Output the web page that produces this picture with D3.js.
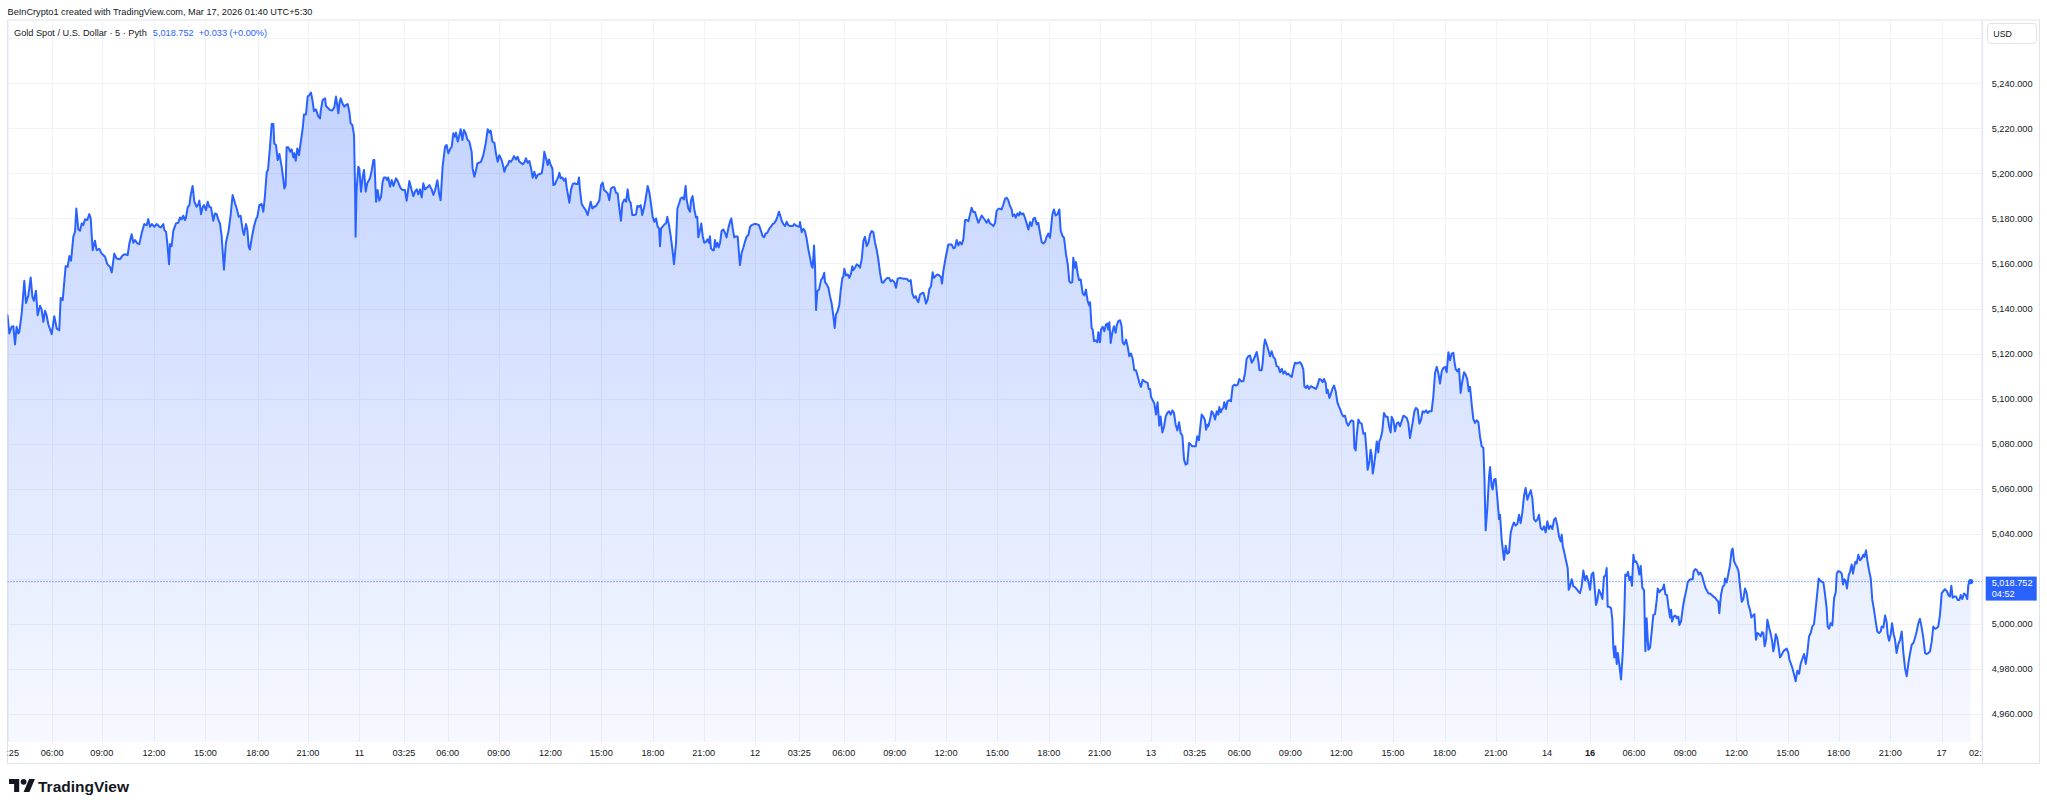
<!DOCTYPE html>
<html><head><meta charset="utf-8">
<script src="https://cdn.jsdelivr.net/npm/d3@7"></script>
<style>
html,body{margin:0;padding:0;background:#fff;}
svg{display:block;font-family:"Liberation Sans",Arial,sans-serif;}
</style></head><body>
<svg id="chart" width="2047" height="809"></svg>
<script>
// ---------- data (x = 5-minute bar index from 10 Mar 03:25, y = price in USD) ----------
const priceTicks = [4960,4980,5000,5020,5040,5060,5080,5100,5120,5140,5160,5180,5200,5220,5240,5260];
const hiddenPriceLabels = [5020,5260];
const timeTickBars = [0,31.4,66.3,103.0,139.2,175.9,211.3,247.5,278.8,309.6,345.4,381.8,417.6,453.9,489.6,525.7,556.8,588.1,623.9,660.0,696.1,732.3,768.0,804.1,834.9,866.3,902.1,937.9,974.3,1010.6,1046.6,1082.7,1112.9,1143.8,1179.8,1215.9,1252.0,1287.7,1324.1,1360.1,1387.5];
const timeTickLabels = ["03:25","06:00","09:00","12:00","15:00","18:00","21:00","11","03:25","06:00","09:00","12:00","15:00","18:00","21:00","12","03:25","06:00","09:00","12:00","15:00","18:00","21:00","13","03:25","06:00","09:00","12:00","15:00","18:00","21:00","14","16","06:00","09:00","12:00","15:00","18:00","21:00","17","02:25"];
const boldTimeLabels = ["16"];
const lastPrice = 5018.752;
const lastChange = "+0.033 (+0.00%)";
const countdown = "04:52";

const mar10 = [[0,5137.0],[1.3,5128.9],[2.9,5131.9],[4.1,5132.1],[5.3,5124.1],[6.4,5131.9],[7.6,5128.9],[8.3,5129.6],[10.0,5137.8],[11.8,5152.3],[13.0,5142.5],[14.7,5145.9],[16.3,5153.8],[17.5,5145.2],[18.6,5143.4],[20.0,5147.9],[21.2,5137.0],[22.9,5141.2],[24.0,5139.6],[25.2,5134.1],[26.4,5139.0],[27.5,5137.0],[28.7,5133.0],[31.1,5128.6],[32.9,5136.6],[34.6,5131.1],[36.4,5130.4],[37.4,5144.7],[38.8,5143.7],[40.9,5158.8],[42.3,5158.5],[43.5,5163.3],[44.7,5161.2],[46.3,5171.9],[47.5,5174.1],[48.4,5184.4],[49.8,5175.1],[51.0,5174.5],[52.2,5177.8],[53.3,5177.0],[54.5,5179.6],[56.1,5179.3],[57.5,5181.9],[58.5,5180.0],[59.9,5165.9],[61.5,5170.1],[62.7,5165.9],[64.6,5166.5],[66.2,5164.4],[68.6,5163.0],[70.2,5159.7],[72.1,5158.5],[73.3,5156.0],[75.1,5164.4],[76.7,5162.2],[79.1,5161.9],[81.0,5163.6],[82.6,5164.1],[84.5,5163.7],[85.7,5168.9],[87.3,5173.0],[88.5,5169.2],[89.7,5170.4],[91.3,5168.9],[92.7,5168.6],[94.4,5173.6],[96.2,5177.5],[97.9,5177.0],[99.0,5179.7],[100.2,5176.3],[101.6,5177.5],[103.3,5176.3],[104.9,5177.5],[106.8,5176.3],[107.9,5176.0],[109.6,5177.5],[110.3,5174.8],[111.5,5174.1],[112.4,5168.9],[113.6,5159.7],[114.3,5168.6],[115.4,5167.7],[116.6,5174.5],[118.5,5177.8],[120.1,5178.1],[121.3,5180.4],[122.5,5179.6],[123.6,5181.2],[124.8,5179.3],[125.5,5180.3],[126.7,5184.9],[127.9,5185.9],[128.8,5190.2],[130.2,5194.4],[131.4,5187.4],[133.0,5185.2],[134.2,5186.2],[134.9,5187.9],[136.1,5181.9],[137.2,5184.9],[138.2,5185.9],[139.6,5183.7],[140.8,5187.4],[141.9,5185.2],[143.1,5184.9],[144.7,5179.0],[145.9,5182.2],[147.1,5181.9],[148.3,5179.3],[149.4,5177.8],[150.6,5172.1],[152.2,5157.3],[153.6,5169.2],[155.5,5174.5],[156.9,5181.5],[158.3,5190.4],[160.0,5186.7],[161.2,5184.4],[162.6,5180.7],[163.9,5181.2],[165.4,5174.8],[166.3,5172.6],[167.7,5177.5],[168.7,5174.8],[169.6,5167.4],[170.5,5166.2],[171.7,5171.1],[173.3,5176.3],[174.8,5179.7],[175.7,5180.7],[177.1,5185.9],[178.7,5186.4],[179.9,5183.0],[181.1,5190.4],[182.3,5200.7],[183.2,5201.5],[184.6,5211.9],[185.8,5221.9],[187.0,5221.9],[187.6,5213.3],[188.8,5212.6],[190.0,5205.9],[191.2,5208.6],[192.8,5203.0],[194.0,5197.0],[194.7,5193.3],[195.6,5194.8],[196.3,5211.6],[197.5,5211.6],[198.7,5209.6],[199.8,5210.7],[201.0,5207.1],[201.7,5208.9],[202.7,5205.6],[203.8,5211.1],[205.0,5208.1],[206.4,5214.8],[207.6,5220.0],[208.5,5226.2],[209.9,5226.2],[211.1,5234.1],[212.3,5234.8],[213.4,5235.9],[214.6,5231.9],[215.5,5227.7],[216.9,5228.4],[218.6,5225.2],[219.8,5224.4],[220.2,5227.4],[221.6,5232.6],[223.3,5233.3],[224.0,5229.9],[225.6,5228.9],[226.8,5228.1],[228.4,5227.9],[229.8,5229.3],[231.0,5234.1],[232.7,5226.7],[233.4,5231.1],[234.3,5233.3],[235.5,5231.1],[236.9,5229.6],[238.0,5230.4],[239.2,5230.8],[240.4,5227.4],[241.3,5222.2],[242.5,5221.5],[243.7,5217.0],[244.4,5194.1],[244.8,5171.9],[245.5,5192.6],[246.7,5203.0]];

const mar11 = [[247.4,5202.2],[248.6,5191.9],[249.8,5198.5],[250.7,5201.5],[251.9,5191.9],[253.0,5195.6],[254.9,5197.8],[256.1,5201.2],[257.3,5205.9],[258.0,5205.9],[259.2,5187.4],[260.3,5192.6],[261.5,5187.9],[262.7,5189.6],[263.8,5196.3],[264.8,5198.2],[266.0,5198.2],[267.1,5197.0],[267.8,5198.2],[269.0,5194.1],[270.2,5197.0],[271.4,5194.4],[273.2,5197.8],[274.4,5196.6],[276.0,5194.1],[276.7,5193.3],[277.9,5192.6],[279.5,5192.6],[280.7,5187.9],[282.6,5196.6],[284.2,5192.6],[285.4,5189.9],[286.6,5191.9],[287.8,5192.9],[288.9,5190.7],[290.1,5192.9],[291.3,5189.3],[292.4,5195.6],[293.6,5192.9],[295.3,5193.8],[296.7,5194.8],[298.3,5192.9],[299.5,5190.4],[300.6,5192.3],[302.3,5197.0],[303.5,5191.1],[304.6,5188.1],[306.0,5203.0],[307.7,5211.9],[308.8,5212.6],[310.0,5208.9],[311.2,5210.7],[312.4,5211.9],[313.5,5217.8],[314.7,5216.3],[315.4,5218.1],[316.6,5214.1],[317.5,5216.3],[318.7,5219.6],[319.9,5214.8],[321.0,5219.3],[322.2,5217.8],[323.4,5215.1],[324.8,5214.1],[326.4,5209.6],[327.1,5202.2],[328.3,5198.5],[329.5,5201.5],[330.4,5204.4],[331.6,5204.7],[333.0,5205.2],[334.6,5208.1],[336.3,5213.3],[337.7,5219.6],[338.9,5218.1],[339.8,5219.0],[341.0,5214.1],[342.4,5213.6],[343.5,5208.9],[344.7,5205.2],[345.9,5208.1],[347.5,5205.9],[348.7,5203.0],[349.4,5200.7],[350.6,5203.0],[351.7,5203.7],[352.9,5205.6],[354.1,5205.2],[355.3,5206.4],[356.2,5207.7],[357.6,5206.2],[358.8,5207.4],[359.9,5205.2],[361.1,5204.7],[362.3,5204.0],[363.5,5204.9],[364.6,5206.7],[365.8,5204.7],[367.0,5205.5],[368.2,5202.2],[369.3,5198.1],[370.5,5200.7],[371.7,5197.8],[372.8,5199.3],[374.0,5199.7],[375.7,5200.0],[376.8,5204.4],[377.5,5209.6],[378.7,5206.7],[379.9,5203.7],[380.8,5206.2],[382.0,5203.7],[383.2,5202.2],[383.9,5194.8],[385.0,5195.1],[386.2,5197.0],[387.4,5198.5],[388.1,5200.3],[389.0,5197.8],[390.2,5198.2],[391.4,5196.7],[392.5,5197.8],[393.2,5193.8],[394.4,5189.6],[395.1,5187.0],[396.3,5192.9],[397.5,5195.3],[398.6,5195.6],[399.8,5195.3],[401.0,5195.3],[401.9,5198.2],[402.6,5192.6],[403.8,5186.4],[405.0,5185.2],[406.6,5183.7],[408.0,5181.5],[408.9,5184.0],[410.1,5187.4],[411.3,5184.4],[412.5,5185.2],[413.9,5185.5],[415.0,5186.7],[416.2,5187.9],[417.4,5194.8],[418.6,5195.9],[419.5,5192.6],[420.9,5191.9],[422.1,5191.1],[423.2,5188.1],[424.4,5193.3],[425.6,5193.8],[426.8,5193.8],[427.9,5191.4],[429.1,5191.1],[430.3,5184.4],[431.4,5179.0],[432.4,5186.7],[433.8,5188.4],[435.0,5187.4],[436.1,5192.9],[437.1,5188.1],[438.2,5187.0],[439.4,5181.5],[440.8,5181.5],[442.0,5181.8],[442.9,5185.5],[444.3,5185.2],[445.3,5185.9],[446.4,5181.5],[447.9,5185.5],[449.0,5189.6],[450.2,5194.4],[451.4,5191.4],[452.5,5186.7],[453.7,5180.7],[454.9,5178.5],[456.1,5180.0],[457.2,5176.3],[458.2,5175.6],[458.9,5167.7],[459.6,5175.6],[460.7,5176.3],[461.9,5177.3],[463.1,5177.8],[464.0,5180.7],[465.2,5177.0],[466.4,5172.1],[467.5,5166.7],[468.7,5159.7],[470.1,5168.9],[471.1,5184.4],[472.2,5186.4],[473.4,5188.9],[474.6,5189.3],[475.7,5188.4],[476.9,5194.4],[477.6,5188.4],[478.8,5184.4],[480.0,5183.0],[480.7,5188.1],[481.8,5189.9],[483.0,5184.0],[484.2,5180.4],[485.1,5180.7],[485.8,5171.6],[487.0,5174.8],[487.9,5177.8],[488.9,5172.1],[490.0,5169.2],[491.2,5169.6],[492.2,5170.7],[493.3,5169.2],[494.0,5172.1],[494.7,5166.7],[495.9,5165.9],[496.8,5165.9],[497.5,5170.4],[498.2,5167.4],[499.2,5169.2],[500.1,5167.1],[501.1,5169.2],[502.2,5174.5],[503.4,5175.1],[504.6,5173.6],[505.7,5171.6],[506.9,5175.6],[508.1,5178.5],[509.0,5180.0],[510.0,5175.6],[511.1,5171.6],[512.3,5172.1],[513.5,5171.9],[514.6,5163.0],[515.1,5159.3],[516.3,5164.7],[517.5,5167.1],[518.6,5169.6],[519.8,5171.9],[521.0,5172.6],[522.2,5176.3],[523.3,5177.0],[525.0,5177.5]];

const mar12 = [[526.8,5177.5],[528.5,5177.0],[529.7,5174.8],[531.1,5172.1],[532.0,5171.6],[533.2,5173.3],[534.3,5173.6],[535.8,5175.6],[536.9,5176.3],[538.1,5177.5],[539.0,5177.8],[540.4,5179.0],[541.4,5180.7],[542.5,5183.0],[543.7,5180.7],[544.4,5179.0],[545.6,5177.5],[546.8,5176.6],[547.9,5178.5],[549.1,5177.0],[550.3,5176.6],[552.2,5176.6],[553.3,5177.5],[555.0,5176.6],[556.9,5176.3],[557.3,5178.4],[558.5,5173.9],[559.7,5175.4],[560.8,5174.4],[562.0,5171.0],[563.2,5166.2],[564.4,5162.5],[565.5,5158.8],[566.2,5158.1],[567.2,5168.0],[567.9,5158.8],[568.6,5139.3],[569.5,5147.7],[570.7,5148.4],[572.1,5152.6],[573.3,5153.6],[574.4,5155.9],[574.9,5151.7],[576.1,5150.7],[577.3,5149.2],[578.4,5145.5],[579.6,5142.2],[580.8,5136.6],[581.7,5131.4],[582.6,5137.3],[583.8,5138.8],[585.0,5141.8],[585.9,5147.7],[587.1,5153.6],[587.8,5154.1],[588.5,5157.6],[589.7,5154.7],[590.9,5155.1],[592.0,5153.6],[593.2,5155.6],[594.1,5158.8],[594.8,5157.0],[596.0,5158.1],[597.2,5159.6],[598.4,5159.1],[599.5,5158.1],[600.7,5161.8],[601.9,5169.9],[603.0,5171.9],[604.2,5167.7],[605.4,5169.2],[606.6,5172.9],[607.7,5174.4],[608.9,5173.9],[610.1,5169.2],[611.2,5166.2],[612.4,5161.8],[613.6,5155.9],[614.8,5151.7],[615.9,5151.4],[617.1,5152.6],[618.7,5153.6],[619.9,5153.6],[621.1,5152.1],[622.3,5152.6],[623.7,5151.7],[624.8,5149.2],[626.0,5153.2],[627.7,5153.6],[630.0,5153.2],[632.3,5153.2],[634.0,5152.1],[635.2,5152.6],[636.3,5146.7],[637.5,5144.7],[638.7,5145.5],[639.4,5144.0],[640.5,5142.8],[641.7,5146.2],[642.9,5146.7],[644.1,5147.0],[644.8,5145.5],[645.9,5142.2],[647.1,5144.0],[648.3,5148.7],[649.5,5149.9],[650.6,5156.1],[651.6,5153.6],[652.7,5154.4],[653.9,5155.1],[655.3,5154.7],[656.5,5153.9],[657.2,5151.1],[658.1,5156.6],[659.3,5161.0],[660.5,5165.0],[661.6,5168.4],[662.8,5168.4],[664.0,5168.4],[665.2,5166.7],[666.3,5167.0],[667.5,5170.4],[668.7,5168.0],[669.8,5169.5],[671.0,5168.4],[672.2,5170.7],[673.4,5179.3],[674.5,5179.3],[675.7,5178.8],[676.9,5181.8],[678.0,5184.7],[679.2,5182.8],[680.4,5182.8],[681.6,5180.3],[682.7,5178.1],[683.9,5179.6],[685.1,5181.3],[686.2,5180.3],[687.4,5179.3],[688.6,5178.1],[689.8,5179.6],[690.9,5177.8],[692.1,5177.3],[693.3,5176.6],[694.5,5178.1],[695.6,5183.3],[696.8,5184.3],[698.0,5184.3],[699.1,5184.0],[700.3,5186.2],[701.5,5188.7],[702.7,5189.2],[703.8,5188.1],[705.0,5185.5],[706.2,5184.0],[706.9,5181.0],[708.1,5181.8],[709.0,5180.3],[710.2,5182.2],[711.3,5181.3],[712.0,5182.8],[713.2,5181.8],[714.4,5182.2],[715.5,5180.3],[716.7,5177.8],[717.9,5175.1],[719.1,5178.4],[720.2,5176.6],[721.4,5179.9],[722.6,5180.3],[723.8,5177.3],[724.9,5178.1],[726.1,5173.6],[727.3,5169.5],[728.4,5168.9],[729.6,5169.5],[730.8,5171.9],[732.0,5173.3],[733.1,5171.4],[733.8,5175.4],[734.8,5181.8],[735.9,5184.0],[737.1,5181.3],[738.3,5181.8],[739.7,5184.0],[740.6,5174.8],[741.8,5172.4],[743.0,5171.4],[744.4,5164.0],[745.6,5159.6],[746.7,5152.1],[747.7,5151.4],[748.8,5151.7],[749.5,5162.5],[750.7,5158.1],[751.4,5160.6],[752.4,5156.1],[753.5,5152.6],[754.7,5152.9],[756.1,5146.7],[757.3,5145.8],[758.4,5148.4],[759.6,5143.3],[760.8,5141.3],[761.3,5142.8],[762.4,5131.4],[763.1,5130.7],[764.1,5125.5],[765.2,5125.9],[766.4,5125.0],[767.1,5129.5],[768.3,5125.0],[769.0,5130.7],[770.2,5131.9],[771.3,5129.9],[772.5,5132.9],[773.4,5133.3],[774.1,5130.7],[774.9,5133.9],[775.8,5124.7],[777.0,5129.5],[778.1,5132.1],[779.3,5129.2],[780.0,5132.4],[781.2,5134.4],[782.4,5134.8],[783.5,5132.1],[784.2,5125.0],[785.4,5124.0],[786.6,5126.2],[787.7,5123.3],[788.9,5118.8],[790.1,5120.0],[791.3,5117.6],[792.4,5112.6],[793.6,5112.6],[794.8,5109.9],[796.0,5107.0],[797.1,5105.2],[798.3,5108.4],[799.5,5107.7],[800.6,5107.3],[801.8,5107.0],[802.5,5104.3],[803.5,5104.3]];

const mar13 = [[804.2,5100.7],[805.3,5099.3],[806.5,5097.8],[807.7,5092.9],[808.8,5098.4],[810.0,5088.0],[810.9,5092.1],[812.1,5085.0],[813.3,5087.4],[814.5,5092.1],[815.6,5093.6],[816.8,5094.4],[818.0,5092.9],[819.2,5094.8],[820.3,5093.6],[821.5,5088.4],[822.7,5085.9],[823.9,5089.5],[825.0,5084.7],[826.2,5083.6],[827.4,5072.9],[828.5,5070.7],[829.7,5071.1],[830.9,5080.3],[832.1,5079.6],[833.2,5078.8],[834.4,5078.8],[835.6,5078.8],[836.7,5083.3],[837.9,5081.5],[838.6,5086.2],[839.8,5092.9],[841.0,5091.9],[842.1,5090.4],[842.9,5086.2],[843.8,5088.4],[844.5,5087.7],[845.7,5090.7],[846.8,5094.4],[848.0,5093.3],[849.2,5090.7],[850.4,5094.4],[851.5,5092.9],[852.2,5096.3],[853.2,5093.9],[853.9,5095.1],[855.0,5095.9],[855.7,5098.4],[856.9,5095.4],[857.9,5098.8],[859.3,5099.3],[860.4,5098.8],[861.6,5105.5],[862.8,5106.2],[863.9,5105.8],[865.1,5106.2],[866.3,5108.7],[867.5,5107.7],[869.1,5107.7],[870.3,5111.4],[871.4,5117.6],[872.6,5118.8],[873.8,5119.1],[875.0,5115.9],[876.1,5117.0],[877.3,5118.8],[878.5,5120.7],[879.7,5116.6],[880.4,5112.6],[882.0,5112.6],[882.7,5115.9],[883.6,5123.3],[884.3,5126.2],[885.5,5124.0],[886.7,5121.5],[887.9,5118.8],[889.0,5121.0],[890.2,5118.5],[891.4,5117.6],[892.5,5114.4],[893.7,5114.1],[894.9,5111.7],[896.1,5113.2],[897.2,5111.1],[898.4,5112.1],[899.6,5110.7],[900.7,5111.1],[901.9,5110.2],[903.1,5109.6],[904.3,5113.2],[905.4,5115.9],[906.6,5115.6],[907.8,5115.9],[909.0,5116.1],[910.1,5115.1],[911.3,5112.9],[912.0,5105.5],[913.2,5104.7],[914.1,5105.8],[915.3,5104.3],[916.5,5105.5],[917.6,5105.2],[918.8,5104.7],[920.2,5104.3],[921.4,5106.2],[922.5,5108.7],[923.7,5108.4],[924.9,5107.3],[925.8,5108.7],[927.0,5107.0],[927.7,5102.5],[928.4,5104.0],[929.6,5100.3],[930.5,5101.8],[931.7,5104.3],[932.9,5105.8],[934.0,5103.3],[935.2,5098.4],[936.4,5096.3],[937.1,5095.4],[938.3,5093.3],[939.4,5092.1],[940.6,5092.4],[941.8,5089.2],[942.9,5088.0],[944.1,5089.5],[945.3,5090.4],[946.5,5089.9],[947.2,5078.1],[948.1,5077.0],[948.8,5083.3],[950.0,5090.7],[951.1,5089.2],[952.3,5088.9],[953.5,5084.4],[954.7,5084.7],[955.8,5076.1],[956.5,5068.4],[957.7,5071.7],[958.6,5077.3],[959.3,5075.1],[960.1,5066.7],[961.0,5070.2],[962.2,5076.6],[962.9,5081.0],[964.0,5076.1],[964.7,5081.0],[965.7,5082.5],[966.8,5085.5],[968.0,5093.6],[969.4,5091.9],[970.6,5091.9],[971.5,5088.0],[972.7,5085.0],[973.4,5091.9],[974.6,5090.4],[975.8,5085.5],[976.9,5088.9],[978.1,5089.5],[979.3,5087.7],[980.4,5089.9],[981.6,5092.4],[982.8,5092.1],[984.0,5091.4],[985.1,5089.2],[986.3,5082.5],[987.5,5087.0],[988.2,5089.5],[989.4,5094.4],[990.5,5095.9],[991.7,5095.1],[992.9,5088.9],[994.0,5090.4],[995.2,5094.4],[996.4,5093.9],[997.6,5094.8],[998.7,5093.6],[999.9,5094.4],[1001.5,5094.4],[1002.7,5101.0],[1003.9,5111.4],[1005.1,5114.1],[1006.2,5111.4],[1007.4,5106.7],[1008.6,5112.1],[1009.7,5113.6],[1010.9,5114.1],[1012.1,5111.7],[1013.3,5120.6],[1014.4,5117.0],[1015.6,5120.0],[1016.8,5120.3],[1017.5,5116.6],[1018.4,5113.2],[1019.6,5112.1],[1020.8,5113.2],[1021.9,5102.5],[1023.1,5107.7],[1024.3,5111.7],[1025.4,5110.7],[1026.6,5108.4],[1027.6,5103.3],[1028.5,5105.2],[1029.7,5097.3],[1030.8,5091.0],[1032.0,5089.2],[1033.2,5090.4],[1034.4,5089.5],[1035.5,5083.3],[1036.7,5078.8],[1037.9,5078.1],[1038.6,5065.5],[1039.5,5041.5],[1040.7,5051.4],[1041.9,5065.5],[1042.6,5069.6],[1043.7,5061.0],[1044.4,5059.6],[1045.4,5064.0],[1046.5,5064.3],[1047.7,5055.9],[1048.9,5046.5],[1049.6,5048.4],[1050.8,5037.0],[1052.4,5028.4],[1053.6,5034.7],[1054.7,5031.1],[1055.9,5031.7],[1057.1,5040.3],[1058.3,5043.3],[1059.4,5045.0],[1060.6,5043.6],[1061.8,5044.4],[1063.0,5048.4],[1064.1,5044.7],[1065.3,5049.5],[1066.5,5056.9],[1067.6,5060.3],[1068.8,5055.1],[1070.0,5057.3],[1071.2,5059.3],[1072.3,5055.9],[1073.5,5046.5],[1074.7,5045.5],[1075.8,5046.2],[1077.0,5048.4],[1078.2,5042.5],[1079.4,5041.8],[1080.5,5043.3],[1081.7,5040.6],[1082.9,5045.5],[1084.0,5042.1],[1085.2,5043.6],[1086.4,5042.1],[1087.6,5046.2],[1088.7,5047.0],[1089.9,5043.6],[1091.1,5038.8],[1092.3,5036.6],[1093.0,5039.6],[1093.7,5034.7],[1094.8,5031.7],[1096.0,5028.1],[1097.2,5024.7],[1097.9,5015.1],[1098.8,5016.6],[1100.0,5019.8],[1101.2,5016.6],[1102.3,5016.3],[1103.5,5015.4],[1104.7,5014.4],[1105.8,5013.6],[1107.0,5016.6],[1108.2,5023.7],[1109.4,5019.3],[1110.5,5021.3],[1111.7,5018.8]];

const mar16 = [[1112.9,5015.1],[1114.0,5021.8],[1115.2,5022.8],[1115.9,5018.1],[1117.1,5008.4],[1118.0,5010.4],[1119.2,5015.1],[1120.4,5013.5],[1121.6,5011.0],[1122.7,5020.9],[1123.9,5021.6],[1124.6,5024.8],[1125.3,5007.6],[1126.5,5007.6],[1127.7,5006.9],[1128.6,5001.8],[1129.3,4989.3],[1130.0,4985.1],[1130.7,4990.0],[1131.7,4982.2],[1132.4,4987.0],[1133.5,4981.9],[1134.7,4975.3],[1135.9,4987.0],[1137.0,5004.0],[1137.7,5021.9],[1138.7,5021.3],[1139.6,5023.1],[1140.6,5019.4],[1141.5,5020.9],[1142.4,5016.9],[1143.4,5030.7],[1144.3,5027.5],[1145.2,5027.8],[1146.4,5026.3],[1147.6,5021.9],[1148.5,5025.7],[1149.7,5016.0],[1150.9,5015.0],[1151.8,4987.8],[1152.7,5002.5],[1153.9,4988.5],[1155.1,4989.3],[1156.3,4996.6],[1157.4,5004.0],[1158.6,5004.3],[1159.8,5010.6],[1160.5,5015.7],[1161.7,5014.0],[1162.8,5015.0],[1164.0,5015.4],[1164.9,5017.5],[1165.9,5013.1],[1167.0,5012.8],[1168.2,5006.9],[1169.2,5002.8],[1169.9,5006.2],[1170.6,5001.0],[1171.7,5003.2],[1172.9,5003.7],[1173.8,5002.5],[1175.0,5003.2],[1175.7,4999.5],[1176.9,5001.0],[1178.1,5006.9],[1179.2,5011.0],[1180.4,5014.3],[1181.6,5018.4],[1182.7,5019.4],[1183.9,5019.8],[1185.1,5019.8],[1185.8,5023.4],[1187.0,5024.3],[1188.1,5023.8],[1189.3,5021.9],[1190.5,5022.8],[1191.7,5021.3],[1192.8,5018.7],[1194.0,5016.0],[1194.9,5015.0],[1196.1,5013.5],[1197.3,5013.5],[1198.5,5012.8],[1199.6,5012.1],[1200.8,5011.6],[1202.0,5010.6],[1203.1,5009.8],[1203.8,5004.7],[1205.0,5012.8],[1206.2,5016.5],[1207.4,5017.2],[1207.8,5020.1],[1209.0,5018.4],[1210.2,5022.3],[1211.3,5026.0],[1212.5,5032.6],[1213.2,5033.4],[1214.2,5027.8],[1215.3,5026.3],[1216.5,5024.8],[1217.4,5023.1],[1218.4,5016.5],[1219.6,5009.8],[1220.7,5011.0],[1221.9,5015.7],[1223.1,5013.5],[1224.2,5008.7],[1225.4,5006.2],[1226.4,5002.8],[1227.5,5003.7],[1228.5,5004.3],[1229.6,4992.9],[1230.6,4995.9],[1231.7,4995.4],[1232.9,4994.4],[1233.9,4996.3],[1234.8,4995.9],[1235.7,4990.0],[1236.7,4992.9],[1237.6,5001.8],[1238.8,4998.4],[1240.0,4995.4],[1240.9,4992.5],[1241.8,4987.8],[1242.5,4990.0],[1243.5,4995.4],[1244.6,4993.4],[1245.6,4989.3],[1246.5,4985.1],[1247.7,4986.3],[1248.9,4987.8],[1250.0,4988.5],[1251.2,4989.0],[1252.4,4987.0],[1253.1,4984.1],[1254.0,4982.6],[1255.2,4980.4],[1256.4,4977.5],[1257.5,4974.5],[1258.7,4979.2],[1259.9,4977.8],[1261.0,4982.2],[1262.2,4984.5],[1263.4,4986.6],[1264.6,4982.2],[1265.7,4987.0],[1266.9,4994.4],[1268.1,4995.9],[1269.2,4998.8],[1270.4,4999.8],[1271.6,5006.9],[1272.8,5014.3],[1273.7,5020.1],[1274.6,5019.4],[1275.8,5018.7],[1277.0,5018.4],[1278.2,5012.8],[1279.3,5006.9],[1280.0,4998.8],[1281.0,4997.8],[1282.1,5000.3],[1283.3,4999.3],[1284.5,5011.3],[1285.7,5014.0],[1286.4,5022.3],[1287.5,5023.4],[1288.7,5023.1],[1289.9,5022.3],[1290.8,5017.5],[1291.8,5019.8],[1292.7,5019.0],[1293.6,5015.7],[1294.8,5021.6],[1295.7,5023.1],[1296.9,5026.3],[1297.8,5022.3],[1298.5,5024.8],[1299.5,5027.5],[1300.4,5026.8],[1301.6,5030.7],[1302.8,5028.2],[1303.9,5029.0],[1305.1,5030.7],[1305.8,5029.7],[1307.0,5032.6],[1307.9,5028.2],[1309.1,5023.8],[1310.3,5020.1],[1311.4,5010.6],[1312.6,5006.2],[1313.8,5001.0],[1314.9,4996.6],[1316.1,4995.9],[1317.3,4996.6],[1318.0,4998.8],[1319.2,4998.4],[1320.4,5003.7],[1321.5,5000.7],[1322.2,4995.4],[1323.2,4992.5],[1324.3,4995.1],[1325.3,5000.3],[1326.4,4995.4],[1327.4,4992.9],[1328.5,4987.0],[1329.7,4991.0],[1330.9,4992.9],[1332.1,4996.6],[1333.2,4987.5],[1334.4,4980.4],[1335.6,4976.7],[1336.8,4982.6],[1337.9,4986.6],[1339.1,4990.7],[1340.3,4991.5],[1341.4,4993.7],[1342.6,4996.6],[1343.8,5000.3],[1344.9,5002.2],[1346.1,4998.4],[1347.3,4993.7],[1348.5,4987.0],[1349.6,4986.6],[1350.8,4987.0],[1352.0,4987.8],[1353.2,4992.2],[1354.3,4998.8],[1355.5,4997.8],[1356.7,4998.1],[1357.8,4998.8],[1359.0,5004.0]];

const mar17 = [[1360.2,5013.5],[1361.4,5014.6],[1362.5,5015.4],[1363.7,5014.6],[1364.9,5012.8],[1366.0,5012.1],[1367.0,5016.9],[1367.9,5011.6],[1369.1,5012.1],[1370.3,5012.1],[1371.4,5010.6],[1372.6,5010.6],[1373.6,5012.8],[1374.7,5011.0],[1375.9,5013.5],[1377.1,5012.8],[1378.2,5011.0],[1378.9,5017.2],[1379.7,5018.7],[1380.6,5018.752]];

// ---------- layout ----------
const pane = {left: 7.5, right: 1982, top: 20, bottom: 742};
const frame = {left: 7.5, right: 2039.5, top: 20, bottom: 763.5};
const BLUE = "#2962ff", TEXT = "#131722", GRID = "#f0f3fa", BORDER = "#e0e3eb";
const FONT = 9.2;

const series = d3.merge([mar10, mar11, mar12, mar13, mar16, mar17]);

const x = d3.scaleLinear().domain([0, 1380.6]).range([7.5, 1970.7]);
const y = d3.scaleLinear().domain([5240, 4960]).range([83.3, 713.9]);

const svg = d3.select("#chart");
const defs = svg.append("defs");
defs.append("clipPath").attr("id", "paneClip").append("rect")
  .attr("x", pane.left).attr("y", pane.top)
  .attr("width", pane.right - pane.left).attr("height", pane.bottom - pane.top);
defs.append("clipPath").attr("id", "timeClip").append("rect")
  .attr("x", pane.left).attr("y", pane.bottom)
  .attr("width", pane.right - pane.left).attr("height", frame.bottom - pane.bottom);

const maxP = d3.max(series, d => d[1]);
const grad = defs.append("linearGradient").attr("id", "areaGrad")
  .attr("gradientUnits", "userSpaceOnUse")
  .attr("x1", 0).attr("x2", 0).attr("y1", y(maxP)).attr("y2", pane.bottom);
grad.append("stop").attr("offset", 0).attr("stop-color", BLUE).attr("stop-opacity", 0.28);
grad.append("stop").attr("offset", 1).attr("stop-color", BLUE).attr("stop-opacity", 0.04);

// header
svg.append("text").attr("x", 7.5).attr("y", 15.3)
  .attr("font-size", FONT).attr("fill", TEXT)
  .text("BeInCrypto1 created with TradingView.com, Mar 17, 2026 01:40 UTC+5:30");

// frame
svg.append("rect").attr("x", frame.left).attr("y", frame.top)
  .attr("width", frame.right - frame.left).attr("height", frame.bottom - frame.top)
  .attr("fill", "#fff").attr("stroke", BORDER).attr("stroke-width", 1);

// grid
const gridG = svg.append("g").attr("clip-path", "url(#paneClip)");
gridG.selectAll("line.h").data(priceTicks).join("line")
  .attr("x1", pane.left).attr("x2", pane.right)
  .attr("y1", d => Math.round(y(d)) + 0.5).attr("y2", d => Math.round(y(d)) + 0.5)
  .attr("stroke", GRID).attr("stroke-width", 1);
gridG.selectAll("line.v").data(timeTickBars).join("line")
  .attr("y1", pane.top).attr("y2", pane.bottom)
  .attr("x1", d => Math.round(x(d)) + 0.5).attr("x2", d => Math.round(x(d)) + 0.5)
  .attr("stroke", GRID).attr("stroke-width", 1);

// area + line
const plotG = svg.append("g").attr("clip-path", "url(#paneClip)");
plotG.append("path").datum(series)
  .attr("d", d3.area().x(d => x(d[0])).y0(pane.bottom).y1(d => y(d[1])))
  .attr("fill", "url(#areaGrad)");
plotG.append("path").datum(series)
  .attr("d", d3.line().x(d => x(d[0])).y(d => y(d[1])))
  .attr("fill", "none").attr("stroke", BLUE).attr("stroke-width", 2)
  .attr("stroke-linejoin", "round").attr("stroke-linecap", "round");

// last price line + marker
plotG.append("line")
  .attr("x1", pane.left).attr("x2", pane.right)
  .attr("y1", y(lastPrice)).attr("y2", y(lastPrice))
  .attr("stroke", BLUE).attr("stroke-width", 1).attr("stroke-dasharray", "1 2");
const last = series[series.length - 1];
plotG.append("circle").attr("cx", x(last[0])).attr("cy", y(last[1])).attr("r", 2.6).attr("fill", BLUE);

// axis separator
svg.append("line").attr("x1", pane.right + 0.5).attr("x2", pane.right + 0.5)
  .attr("y1", frame.top).attr("y2", frame.bottom).attr("stroke", BORDER);

// price axis labels
svg.append("g").selectAll("text").data(priceTicks.filter(p => !hiddenPriceLabels.includes(p))).join("text")
  .attr("x", 1991.7).attr("y", d => y(d)).attr("dy", "0.35em")
  .attr("font-size", FONT).attr("fill", TEXT)
  .text(d => d3.format(",.3f")(d));

// currency box
svg.append("rect").attr("x", 1987.5).attr("y", 23.5).attr("width", 49).attr("height", 20).attr("rx", 3)
  .attr("fill", "#fff").attr("stroke", BORDER);
svg.append("text").attr("x", 1993.3).attr("y", 33.5).attr("dy", "0.35em")
  .attr("font-size", FONT - 0.4).attr("fill", TEXT).text("USD");

// last price label
const ly = y(lastPrice);
svg.append("rect").attr("x", 1985.7).attr("y", ly - 5).attr("width", 51).attr("height", 24)
  .attr("fill", BLUE);
svg.append("text").attr("x", 1991.7).attr("y", ly + 1.5).attr("dy", "0.35em")
  .attr("font-size", FONT).attr("fill", "#fff").text(d3.format(",.3f")(lastPrice));
svg.append("text").attr("x", 1991.7).attr("y", ly + 12.5).attr("dy", "0.35em")
  .attr("font-size", FONT).attr("fill", "#fff").text(countdown);

// time axis labels
svg.append("g").attr("clip-path", "url(#timeClip)").selectAll("text")
  .data(timeTickBars.map((b, i) => ({b, label: timeTickLabels[i]}))).join("text")
  .attr("x", d => x(d.b)).attr("y", 753).attr("dy", "0.35em")
  .attr("text-anchor", "middle").attr("font-size", FONT).attr("fill", TEXT)
  .attr("font-weight", d => boldTimeLabels.includes(d.label) ? "bold" : "normal")
  .text(d => d.label);

// legend (title, then values flowing after it)
const leg = svg.append("text").attr("x", 14).attr("y", 36.3).attr("font-size", FONT).attr("fill", TEXT);
leg.append("tspan").text("Gold Spot / U.S. Dollar · 5 · Pyth");
leg.append("tspan").attr("dx", 6).attr("fill", BLUE).text(d3.format(",.3f")(lastPrice));
leg.append("tspan").attr("dx", 5).attr("fill", BLUE).text(lastChange);

// TradingView logo
const logo = svg.append("g").attr("transform", "translate(9,776) scale(0.73)").attr("fill", TEXT);
logo.append("path").attr("d", "M14 22H7V11H0V4h14v18zM28 22h-8l7.5-18h8L28 22z");
logo.append("circle").attr("cx", 20).attr("cy", 8).attr("r", 4);
svg.append("text").attr("x", 38).attr("y", 792).attr("font-size", 15.5).attr("font-weight", "bold")
  .attr("fill", TEXT).text("TradingView");
</script>
</body></html>
